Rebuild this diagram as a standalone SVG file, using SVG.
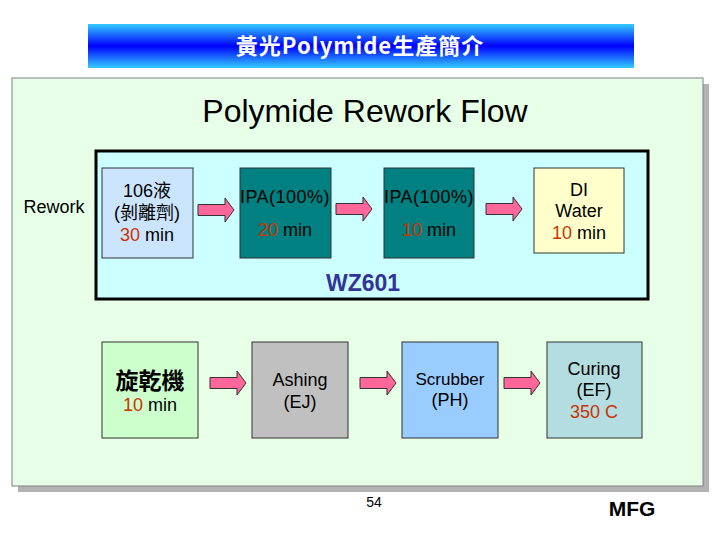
<svg xmlns="http://www.w3.org/2000/svg" width="720" height="540" viewBox="0 0 720 540">
<defs>
<linearGradient id="bar" x1="0" y1="0" x2="0" y2="1">
<stop offset="0" stop-color="#33CCFF"/>
<stop offset="0.5" stop-color="#0000FF"/>
<stop offset="1" stop-color="#33CCFF"/>
</linearGradient>
<path id="arr" d="M0,-5.5 H27 V-12 L36,0 L27,12 V5.5 H0 Z"/>
</defs>
<style>
text{font-family:"Liberation Sans",Arial,"Noto Sans CJK TC",sans-serif;fill:#000;text-anchor:middle}
.t16{font-size:18px}
.red{fill:#CC3300}
.node{stroke:#333;stroke-width:1}
.arrow use{fill:#FF6699;stroke:#333;stroke-width:1}
.cjk{font-family:"Noto Sans CJK TC","Liberation Sans",sans-serif}
</style>
<rect width="720" height="540" fill="#fff"/>
<g id="titlebar">
<rect x="88" y="24" width="546" height="44" fill="url(#bar)"/>
<text x="360" y="54" style="font-size:22px;font-weight:bold;fill:#fff;letter-spacing:1px" class="cjk">黃光Polymide生產簡介</text>
</g>
<g id="panel">
<rect x="18" y="84" width="691" height="408" fill="#B3B3B3"/>
<rect x="12" y="78" width="691" height="408" fill="#E6FFE6" stroke="#808080" stroke-width="1"/>
<text x="365" y="122" style="font-size:32px">Polymide Rework Flow</text>
<text x="54" y="213" class="t16">Rework</text>
</g>
<g id="wz601">
<rect x="96" y="151" width="552" height="148" fill="#CCFFFF" stroke="#000" stroke-width="3"/>
<text x="363" y="291" style="font-size:23px;font-weight:bold;fill:#333399">WZ601</text>
</g>
<g id="n106">
<rect class="node" x="102" y="168" width="91" height="90" fill="#CCE5FF"/>
<text x="147" y="197" class="t16">106液</text>
<text x="147" y="219" class="t16">(剝離劑)</text>
<text x="147" y="241" class="t16"><tspan class="red">30</tspan> min</text>
</g>
<g id="nIPA1">
<rect class="node" x="240" y="168" width="91" height="90" fill="#008080"/>
<text x="285" y="203" class="t16" style="letter-spacing:0.5px">IPA(100%)</text>
<text x="285" y="236" class="t16"><tspan class="red">20</tspan> min</text>
</g>
<g id="nIPA2">
<rect class="node" x="384" y="168" width="90" height="90" fill="#008080"/>
<text x="429" y="203" class="t16" style="letter-spacing:0.5px">IPA(100%)</text>
<text x="429" y="236" class="t16"><tspan class="red">10</tspan> min</text>
</g>
<g id="nDI">
<rect class="node" x="534" y="168" width="90" height="85" fill="#FFFFCC"/>
<text x="579" y="196" class="t16">DI</text>
<text x="579" y="217" class="t16">Water</text>
<text x="579" y="239" class="t16"><tspan class="red">10</tspan> min</text>
</g>
<g id="nSpin">
<rect class="node" x="102" y="342" width="96" height="96" fill="#CCFFCC"/>
<text x="150" y="389" class="cjk" style="font-size:23px;font-weight:bold">旋乾機</text>
<text x="150" y="411" class="t16"><tspan class="red">10</tspan> min</text>
</g>
<g id="nAsh">
<rect class="node" x="252" y="342" width="96" height="96" fill="#C0C0C0"/>
<text x="300" y="386" class="t16">Ashing</text>
<text x="300" y="408" class="t16">(EJ)</text>
</g>
<g id="nScrub">
<rect class="node" x="402" y="342" width="96" height="96" fill="#99CCFF"/>
<text x="450" y="385" style="font-size:17px">Scrubber</text>
<text x="450" y="406" class="t16">(PH)</text>
</g>
<g id="nCure">
<rect class="node" x="547" y="342" width="95" height="96" fill="#B3DDE0"/>
<text x="594" y="375" class="t16">Curing</text>
<text x="594" y="396" class="t16">(EF)</text>
<text x="594" y="418" class="t16 red">350 C</text>
</g>
<g id="connectors" class="arrow">
<use href="#arr" x="198" y="210"/>
<use href="#arr" x="336" y="209"/>
<use href="#arr" x="486" y="209"/>
<use href="#arr" x="210" y="383"/>
<use href="#arr" x="360" y="383"/>
<use href="#arr" x="504" y="383"/>
</g>
<g id="footer">
<text x="374" y="507" style="font-size:14px">54</text>
<text x="632" y="516" style="font-size:21px;font-weight:bold">MFG</text>
</g>
</svg>
